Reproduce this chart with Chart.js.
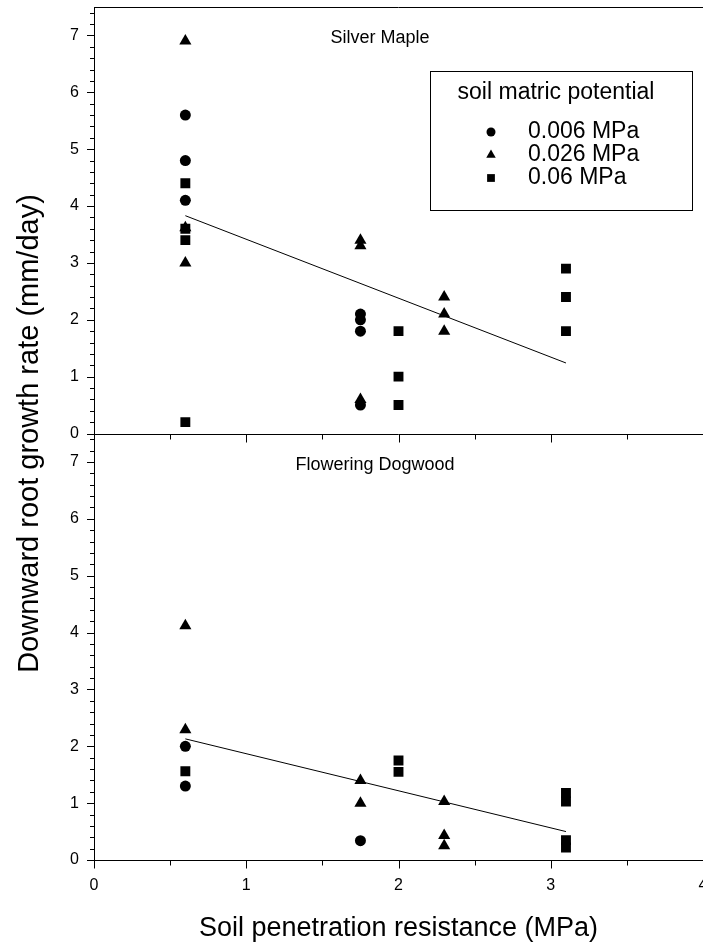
<!DOCTYPE html>
<html>
<head>
<meta charset="utf-8">
<script src="https://cdn.jsdelivr.net/npm/chart.js@4/dist/chart.umd.min.js"></script>
<style>
  html, body { margin: 0; padding: 0; background: #fff; overflow: hidden; }
  canvas { display: block; }
</style>
</head>
<body>
<canvas id="chart" width="710" height="945"></canvas>
<script>
// Silver Maple (top panel)
const mapleX006 = [0.6, 0.6, 0.6, 1.75, 1.75, 1.75, 1.75];
const mapleY006 = [5.6, 4.8, 4.1, 2.1, 2.0, 1.8, 0.5];
const mapleX026 = [0.6, 0.6, 0.6, 1.75, 1.75, 1.75, 2.3, 2.3, 2.3];
const mapleY026 = [6.9, 3.62, 3.0, 3.4, 3.3, 0.6, 2.4, 2.1, 1.8];
const mapleX06 = [0.6, 0.6, 0.6, 0.6, 2.0, 2.0, 2.0, 3.1, 3.1, 3.1];
const mapleY06 = [4.4, 3.6, 3.4, 0.2, 1.8, 1.0, 0.5, 2.9, 2.4, 1.8];
const mapleFitX = [0.6, 3.1];
const mapleFitY = [3.83, 1.24];

// Flowering Dogwood (bottom panel)
const dogwoodX006 = [0.6, 0.6, 1.75];
const dogwoodY006 = [2.0, 1.3, 0.34];
const dogwoodX026 = [0.6, 0.6, 1.75, 1.75, 2.3, 2.3, 2.3];
const dogwoodY026 = [4.12, 2.29, 1.4, 1.0, 1.03, 0.43, 0.25];
const dogwoodX06 = [0.6, 2.0, 2.0, 3.1, 3.1, 3.1, 3.1];
const dogwoodY06 = [1.56, 1.75, 1.55, 1.18, 1.03, 0.35, 0.22];
const dogwoodFitX = [0.6, 3.1];
const dogwoodFitY = [2.13, 0.50];

const xTicks = [0, 1, 2, 3, 4];
const yTicks = [0, 1, 2, 3, 4, 5, 6, 7];
const panelTitles = ['Silver Maple', 'Flowering Dogwood'];
const legendTitle = 'soil matric potential';
const legendLabels = ['0.006 MPa', '0.026 MPa', '0.06 MPa'];
const legendStyles = ['circle', 'triangle', 'rect'];

const FONT = '"Liberation Sans", Arial, Helvetica, sans-serif';
Chart.defaults.font.family = FONT;
Chart.defaults.color = '#000';

function pts(xs, ys) {
    return xs.map((x, i) => ({ x: x, y: ys[i] }));
}

function marks(xs, ys, style, axis) {
    const r = style === 'circle' ? 5.5 : 7;
    return {
        type: 'scatter',
        data: pts(xs, ys),
        yAxisID: axis,
        pointStyle: style,
        pointRadius: r,
        pointHoverRadius: r,
        backgroundColor: '#000',
        borderColor: '#000',
        borderWidth: 0
    };
}

function fit(xs, ys, axis) {
    return {
        type: 'line',
        data: pts(xs, ys),
        yAxisID: axis,
        borderColor: '#000',
        borderWidth: 1,
        pointRadius: 0,
        fill: false
    };
}

function yAxis() {
    return {
        type: 'linear',
        position: 'left',
        stack: 'panels',
        stackWeight: 1,
        min: 0,
        max: 7.5,
        afterBuildTicks: s => { s.ticks = yTicks.map(v => ({ value: v })); },
        afterFit: s => { s.width = 94; s.paddingTop = 0; s.paddingBottom = 0; },
        ticks: { font: { size: 16 }, padding: 7, color: '#000' },
        grid: { display: true, drawOnChartArea: false, drawTicks: true, tickLength: 8, tickColor: 'transparent' },
        border: { display: true, color: '#000', width: 1 }
    };
}

// tick marks, panel frame lines, titles, legend, y title
const decor = {
    id: 'decor',
    afterDraw(chart) {
        const ctx = chart.ctx;
        const area = chart.chartArea;
        const x = chart.scales.x, yt = chart.scales.yTop, yb = chart.scales.yBottom;
        const mid = Math.round(yt.getPixelForValue(0)) + 0.5;
        const base = Math.round(yb.getPixelForValue(0)) + 0.5;
        ctx.save();
        ctx.strokeStyle = '#000';
        ctx.lineWidth = 1;
        ctx.beginPath();
        ctx.moveTo(area.left, area.top + 0.5);
        ctx.lineTo(area.right, area.top + 0.5);
        ctx.moveTo(area.left, mid);
        ctx.lineTo(area.right, mid);
        [yt, yb].forEach(s => {
            for (let i = 0; i <= 37; i++) {
                const py = Math.round(s.getPixelForValue(i / 5)) + 0.5;
                const len = i % 5 === 0 ? 7 : 4;
                ctx.moveTo(area.left - len, py);
                ctx.lineTo(area.left, py);
            }
        });
        [mid, base].forEach(py => {
            for (let i = 0; i <= 8; i++) {
                const px = Math.round(x.getPixelForValue(i / 2)) + 0.5;
                const len = i % 2 === 0 ? 8 : 5;
                ctx.moveTo(px, py);
                ctx.lineTo(px, py + len);
            }
        });
        ctx.stroke();

        // panel titles
        ctx.fillStyle = '#000';
        ctx.textAlign = 'center';
        ctx.textBaseline = 'middle';
        ctx.font = '18px ' + FONT;
        ctx.fillText(panelTitles[0], area.left + 286, area.top + 31);
        ctx.fillText(panelTitles[1], area.left + 281, mid + 31);

        // legend box
        const lx = area.left + 336, ly = area.top + 64;
        ctx.strokeRect(lx + 0.5, ly + 0.5, 262, 139);
        ctx.font = '23px ' + FONT;
        ctx.fillText(legendTitle, lx + 126, ly + 22);
        ctx.textAlign = 'left';
        const rows = [61, 84, 107];
        legendLabels.forEach((label, i) => {
            Chart.helpers.drawPoint(ctx, {
                pointStyle: legendStyles[i],
                radius: legendStyles[i] === 'circle' ? 4.5 : 5.5,
                rotation: 0,
                borderWidth: 0
            }, lx + 61, ly + rows[i]);
            ctx.fillText(label, lx + 98, ly + rows[i]);
        });

        // y title spanning both panels
        ctx.translate(30, (area.top + area.bottom) / 2);
        ctx.rotate(-Math.PI / 2);
        ctx.textAlign = 'center';
        ctx.font = '29px ' + FONT;
        ctx.fillText('Downward root growth rate (mm/day)', 0, 0);
        ctx.restore();
    }
};

new Chart(document.getElementById('chart'), {
    data: {
        datasets: [
            marks(mapleX006, mapleY006, 'circle', 'yTop'),
            marks(mapleX026, mapleY026, 'triangle', 'yTop'),
            marks(mapleX06, mapleY06, 'rect', 'yTop'),
            fit(mapleFitX, mapleFitY, 'yTop'),
            marks(dogwoodX006, dogwoodY006, 'circle', 'yBottom'),
            marks(dogwoodX026, dogwoodY026, 'triangle', 'yBottom'),
            marks(dogwoodX06, dogwoodY06, 'rect', 'yBottom'),
            fit(dogwoodFitX, dogwoodFitY, 'yBottom')
        ]
    },
    options: {
        responsive: false,
        animation: false,
        devicePixelRatio: 1,
        layout: { padding: { left: 0, right: 0, top: 6, bottom: 0 } },
        plugins: { legend: { display: false }, tooltip: { enabled: false } },
        scales: {
            x: {
                type: 'linear',
                position: 'bottom',
                min: 0,
                max: 4,
                afterBuildTicks: s => { s.ticks = xTicks.map(v => ({ value: v })); },
                afterFit: s => { s.height = 85; s.paddingLeft = 0; s.paddingRight = 0; },
                ticks: { font: { size: 16 }, padding: 8, color: '#000', maxRotation: 0 },
                grid: { display: true, drawOnChartArea: false, drawTicks: true, tickLength: 8, tickColor: 'transparent' },
                border: { display: true, color: '#000', width: 1 },
                title: {
                    display: true,
                    text: 'Soil penetration resistance (MPa)',
                    font: { size: 27 },
                    color: '#000',
                    padding: { top: 0, bottom: 0 }
                }
            },
            // left stacked axes are laid out in reverse order
            yBottom: yAxis(),
            yTop: yAxis()
        }
    },
    plugins: [decor]
});
</script>
</body>
</html>
